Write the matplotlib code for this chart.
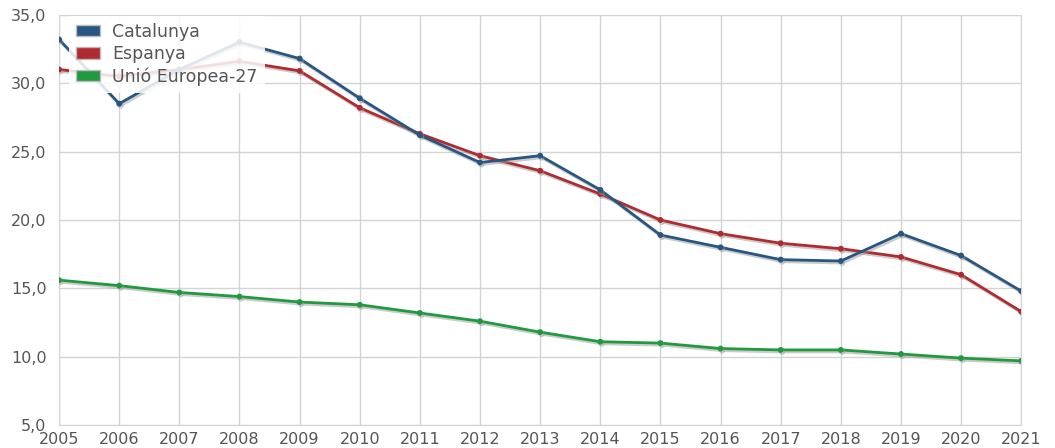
import matplotlib
matplotlib.use('Agg')
import matplotlib.pyplot as plt
import matplotlib.patheffects as pe
from matplotlib.patches import Patch

years = list(range(2005, 2022))
catalunya = [33.2, 28.5, 31.0, 33.0, 31.8, 28.9, 26.2, 24.2, 24.7, 22.2, 18.9, 18.0, 17.1, 17.0, 19.0, 17.4, 14.8]
espanya = [31.0, 30.5, 31.0, 31.6, 30.9, 28.2, 26.3, 24.7, 23.6, 21.9, 20.0, 19.0, 18.3, 17.9, 17.3, 16.0, 13.3]
ue27 = [15.6, 15.2, 14.7, 14.4, 14.0, 13.8, 13.2, 12.6, 11.8, 11.1, 11.0, 10.6, 10.5, 10.5, 10.2, 9.9, 9.7]
yticks = [5, 10, 15, 20, 25, 30, 35]

series = [('Catalunya', catalunya, '#285682'),
          ('Espanya', espanya, '#b02a30'),
          ('Unió Europea-27', ue27, '#1f9a3e')]

fig = plt.figure(figsize=(10.55, 4.48), dpi=100)
ax = fig.add_axes([0.056, 0.051, 0.912, 0.916])

shadow = [pe.SimpleLineShadow(offset=(1, -1.5), shadow_color='#999999', alpha=0.5), pe.Normal()]
for i, (name, vals, col) in enumerate(series):
    ax.plot(years, vals, color=col, lw=2.0, marker='o', ms=3.2,
            path_effects=shadow, zorder=5 - i)

ax.set_xlim(2005, 2021)
ax.set_ylim(5, 35)
ax.set_xticks(years)
ax.set_yticks(yticks)
ax.set_yticklabels([('%.1f' % v).replace('.', ',') for v in yticks])
ax.grid(True, color='#d4d4d4', lw=1)
ax.set_axisbelow(True)
for s in ax.spines.values():
    s.set_color('#d4d4d4')
ax.tick_params(length=0, colors='#555555', labelsize=11.5)
ax.tick_params(axis='x', pad=5)
ax.tick_params(axis='y', pad=9)
for lab in ax.get_yticklabels():
    lab.set_verticalalignment('center_baseline')

box_handles = [Patch(facecolor=col, edgecolor='#bbbbbb') for _, _, col in series]
leg = ax.legend(box_handles, [s[0] for s in series], loc='upper left',
                bbox_to_anchor=(0.0104, 0.998), borderaxespad=0,
                frameon=True, fontsize=12.5, handlelength=1.4, handleheight=0.65,
                borderpad=0.4, labelspacing=0.25, handletextpad=0.7)
leg.get_frame().set_facecolor('white')
leg.get_frame().set_alpha(0.85)
leg.get_frame().set_edgecolor('none')
leg.get_frame().set_boxstyle('square', pad=0)
leg.set_zorder(10)
for t in leg.get_texts():
    t.set_color('#555555')

fig.savefig('out.png', dpi=100)
